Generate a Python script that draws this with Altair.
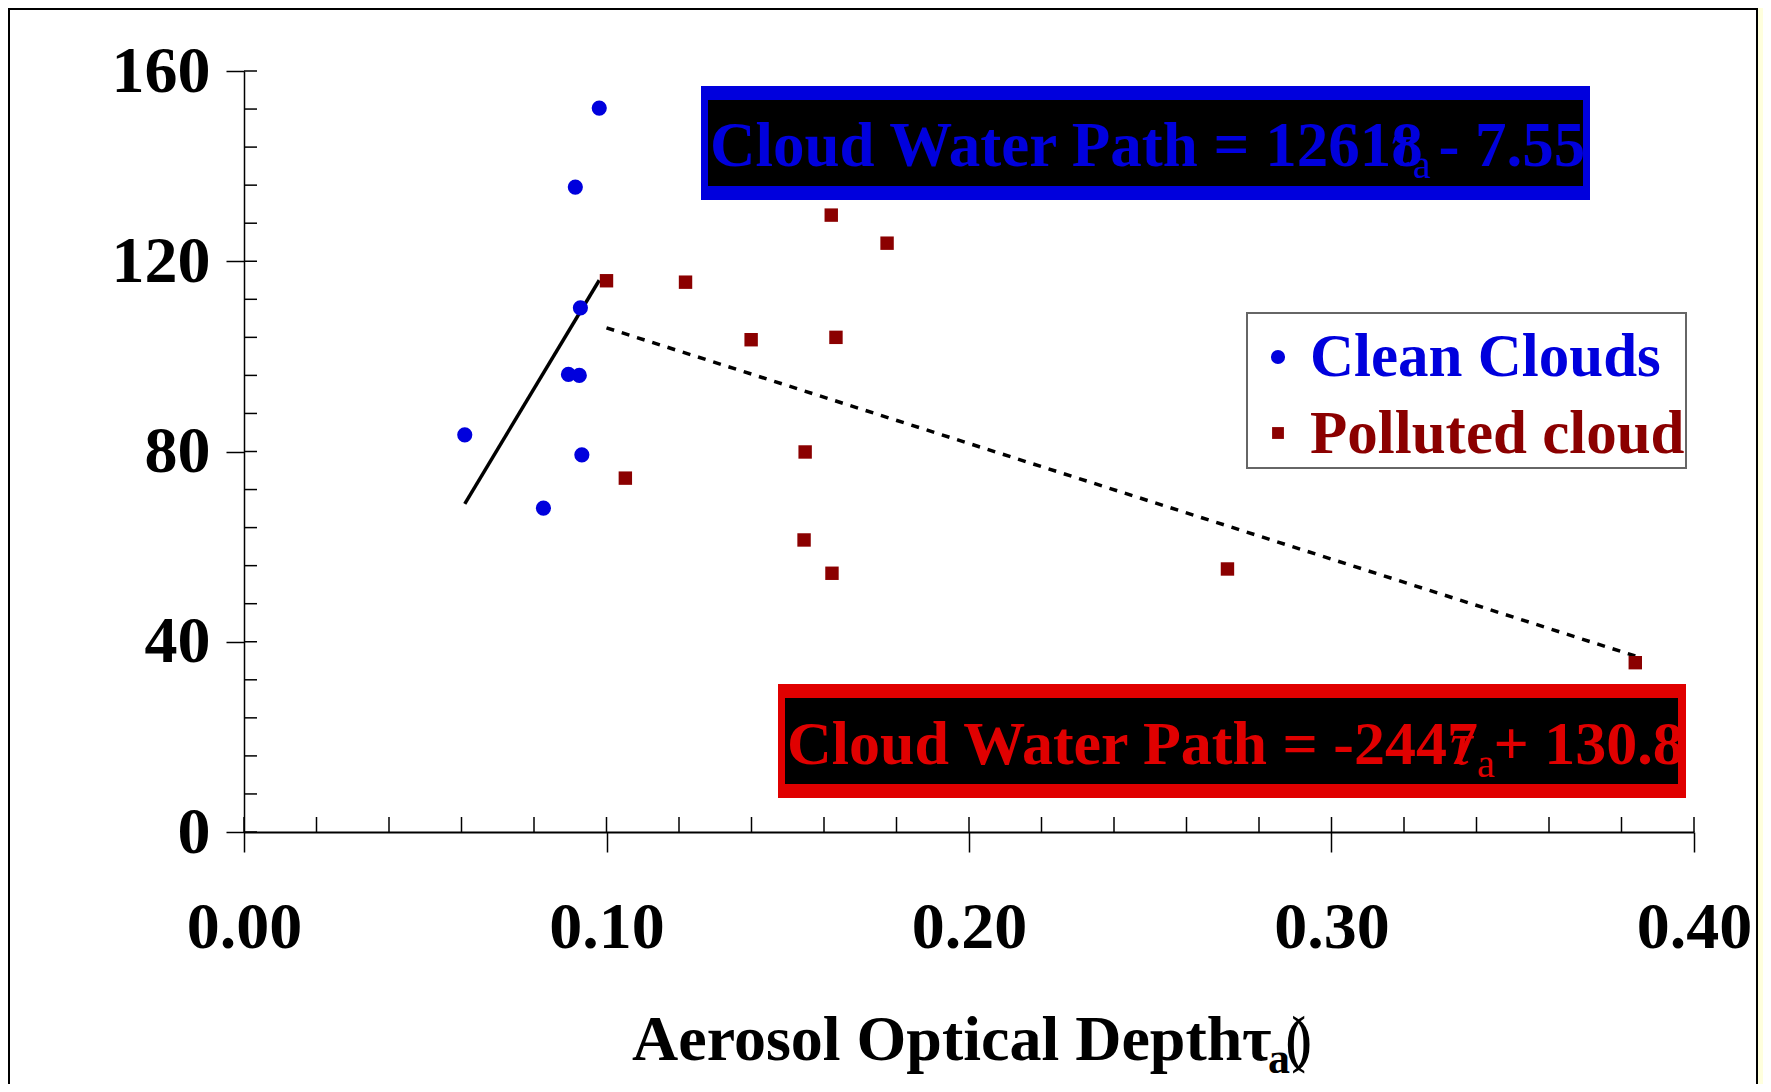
import altair as alt
import pandas as pd

# ---------------- data ----------------
series_names = ["Clean Clouds", "Polluted cloud"]

clean_aod = [0.0980, 0.0914, 0.0928, 0.0895, 0.0925, 0.0609, 0.0932, 0.0826]
clean_cwp = [152.2, 135.6, 110.2, 96.2, 96.0, 83.5, 79.3, 68.1]

poll_aod = [0.1000, 0.1218, 0.1620, 0.1774, 0.1399, 0.1633, 0.1052, 0.1548,
            0.1545, 0.1622, 0.2713, 0.3838]
poll_cwp = [115.9, 115.6, 129.7, 123.8, 103.5, 104.0, 74.4, 79.9,
            61.4, 54.4, 55.3, 35.6]

clean_fit_aod = [0.0609, 0.0980]
clean_fit_cwp = [69.0, 116.0]
poll_fit_aod = [0.1000, 0.3838]
poll_fit_cwp = [106.0, 37.0]

x_tick_values = [0.0, 0.1, 0.2, 0.3, 0.4]
y_tick_values = [0, 40, 80, 120, 160]
x_minor_ticks = [0.0, 0.02, 0.04, 0.06, 0.08, 0.1, 0.12, 0.14, 0.16, 0.18, 0.2,
                 0.22, 0.24, 0.26, 0.28, 0.3, 0.32, 0.34, 0.36, 0.38, 0.4]
y_minor_ticks = [0, 8, 16, 24, 32, 40, 48, 56, 64, 72, 80, 88, 96, 104, 112,
                 120, 128, 136, 144, 152, 160]

blue_eq_text = "Cloud Water Path = 12618 - 7.55"
red_eq_text = "Cloud Water Path = -2447 + 130.8"
tau_text = "τ"
sub_text = "a"
x_title_text = "Aerosol Optical Depth"

# ---------------- styling ----------------
W, H = 1450, 761
FONT = "Liberation Serif"
BLUE = "#0000DD"
DARKRED = "#8B0000"
RED = "#E00000"
YELLOW = "#FFFFDD"

xs = alt.Scale(domain=[0, 0.4], nice=False, zero=False)
ys = alt.Scale(domain=[0, 160], nice=False, zero=False)

xaxis = alt.Axis(values=x_tick_values, format=".2f", labelFont=FONT, labelFontSize=66,
                 labelFontWeight="bold", labelColor="black", tickSize=20, tickColor="black",
                 tickWidth=1.5, domainColor="black", domainWidth=2, labelPadding=43,
                 grid=False, title=None, labelFlush=False, labelOverlap=False,
                 labelBound=False, zindex=1)
yaxis = alt.Axis(values=y_tick_values, format="d", labelFont=FONT, labelFontSize=66,
                 labelFontWeight="bold", labelColor="black", tickSize=18, tickColor="black",
                 tickWidth=1.5, domainColor="black", domainWidth=1.5, labelPadding=16,
                 grid=False, title=None, labelFlush=False, labelOverlap=False,
                 labelBound=False, zindex=1)

X = alt.X("x:Q", scale=xs, axis=xaxis)
Y = alt.Y("y:Q", scale=ys, axis=yaxis)

one = pd.DataFrame({"k": [0]})


def rect(x1, y1, x2, y2, fill, stroke=None, sw=0):
    kw = dict(fill=fill)
    if stroke is not None:
        kw.update(stroke=stroke, strokeWidth=sw)
    return alt.Chart(one).mark_rect(**kw).encode(
        x=alt.value(x1), x2=alt.value(x2), y=alt.value(y1), y2=alt.value(y2))


def text(s, x, y, size, color, weight="bold", style="normal"):
    return alt.Chart(pd.DataFrame({"t": [s]})).mark_text(
        align="left", baseline="alphabetic", font=FONT, fontSize=size,
        fontWeight=weight, fontStyle=style, color=color).encode(
        x=alt.value(x), y=alt.value(y), text="t:N")


# white panel with black frame
frame = rect(-235, -62, 1513, 1030, "white", "black", 2)

# inner (minor) ticks
xt = alt.Chart(pd.DataFrame({"x": x_minor_ticks})).mark_rule(
    color="black", strokeWidth=1.5).encode(x=X, y=alt.value(H), y2=alt.value(H - 15))
yt = alt.Chart(pd.DataFrame({"y": y_minor_ticks})).mark_rule(
    color="black", strokeWidth=1.5).encode(y=Y, x=alt.value(0), x2=alt.value(13))

# fit lines
clean_fit = alt.Chart(pd.DataFrame({"x": clean_fit_aod, "y": clean_fit_cwp})).mark_line(
    color="black", strokeWidth=3.5).encode(x=X, y=Y)
poll_fit = alt.Chart(pd.DataFrame({"x": poll_fit_aod, "y": poll_fit_cwp})).mark_line(
    color="black", strokeWidth=3.5, strokeDash=[8, 8]).encode(x=X, y=Y)

# points
clean_pts = alt.Chart(pd.DataFrame({"x": clean_aod, "y": clean_cwp})).mark_point(
    filled=True, shape="circle", size=230, color=BLUE, opacity=1).encode(x=X, y=Y)
poll_pts = alt.Chart(pd.DataFrame({"x": poll_aod, "y": poll_cwp})).mark_point(
    filled=True, shape="square", size=180, color=DARKRED, opacity=1).encode(x=X, y=Y)

# blue equation box
blue_box = [
    rect(457, 15, 1346, 129, BLUE),
    rect(464, 29, 1339, 115, "black"),
    text(blue_eq_text, 466, 95, 63, BLUE),
    text(tau_text, 1147, 94, 62, BLUE, weight="normal", style="italic"),
    text(sub_text, 1169, 107, 40, BLUE, weight="normal"),
    rect(1339, 15, 1346, 129, BLUE),
    rect(1346, 12, 1420, 132, "white"),
]

# red equation box
red_box = [
    rect(534, 613, 1442, 727, RED),
    rect(541, 627, 1434, 713, "black"),
    text(red_eq_text, 543, 693, 62, RED),
    text(tau_text, 1206, 693, 62, RED, weight="normal", style="italic"),
    text(sub_text, 1233, 706, 40, RED, weight="normal"),
    rect(1434, 613, 1442, 727, RED),
    rect(1442, 610, 1500, 730, "white"),
]

# legend
legend = [
    rect(1003, 242, 1442, 397, "white", "#666666", 2),
    alt.Chart(one).mark_point(filled=True, shape="circle", size=200, color=BLUE,
                              opacity=1).encode(x=alt.value(1034), y=alt.value(286)),
    alt.Chart(one).mark_point(filled=True, shape="square", size=140, color=DARKRED,
                              opacity=1).encode(x=alt.value(1034), y=alt.value(362)),
    text(series_names[0], 1066, 305, 61, BLUE),
    text(series_names[1], 1066, 382, 61, DARKRED),
]

# x title
xtitle = [
    text(x_title_text, 388, 989, 64, "black"),
    text(tau_text, 998, 989, 64, "black"),
    text(sub_text, 1024, 1002, 44, "black"),
    text("(", 1041, 989, 64, "black", weight="normal"),
    text(")", 1047, 989, 64, "black", weight="normal"),
]

layers = [frame, xt, yt, clean_fit, poll_fit, clean_pts, poll_pts] + blue_box + red_box + legend + xtitle

chart = alt.layer(*layers).properties(
    width=W, height=H,
    autosize=alt.AutoSizeParams(type="none"),
    padding={"left": 236, "top": 63, "right": 69, "bottom": 252},
    background=YELLOW,
).configure_view(stroke=None)

chart.save("out.html", embed_options={"renderer": "svg", "actions": False})
